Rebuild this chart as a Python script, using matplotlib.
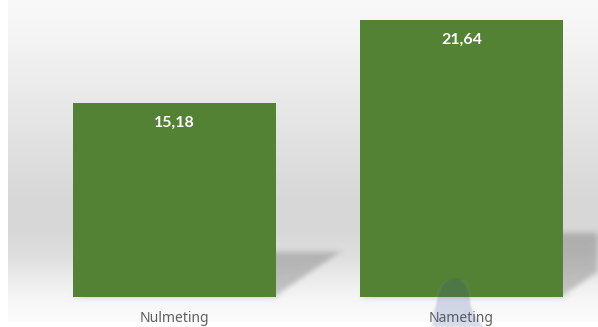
import numpy as np
import matplotlib
matplotlib.use("Agg")
import matplotlib.pyplot as plt
from matplotlib.patches import Polygon, PathPatch
from matplotlib.path import Path
from matplotlib.colors import LinearSegmentedColormap

# data
categories = ["Nulmeting", "Nameting"]
values = [15.18, 21.64]
value_labels = ["15,18", "21,64"]

bar_color = "#548235"
plt.rcParams["font.family"] = ["Noto Sans", "DejaVu Sans"]


def gaussian_blur(sigma):
    # agg filter: blurs whatever the artist rendered
    def _filter(im, dpi):
        pad = int(3 * sigma)
        src = np.pad(im, [(pad, pad), (pad, pad), (0, 0)], "constant")
        x = np.arange(-pad, pad + 1)
        k = np.exp(-0.5 * (x / sigma) ** 2)
        k /= k.sum()
        out = np.apply_along_axis(lambda m: np.convolve(m, k, mode="same"), 0, src)
        out = np.apply_along_axis(lambda m: np.convolve(m, k, mode="same"), 1, out)
        return out, -pad, -pad
    return _filter


fig = plt.figure(figsize=(5.98, 3.27), dpi=100)
fig.patch.set_facecolor("white")

# soft grey backdrop, light at the top and bottom
bg = fig.add_axes([8 / 598, 5 / 327, 590 / 598, 322 / 327])
bg.axis("off")
stops = [(0.0, "#f9f9f9"), (0.13, "#f3f3f3"), (0.31, "#e9e9e9"), (0.5, "#dedede"),
         (0.63, "#d7d7d7"), (0.72, "#d8d8d8"), (0.79, "#dedede"), (0.86, "#eaeaea"),
         (0.93, "#f6f6f6"), (1.0, "#fbfbfb")]
cmap = LinearSegmentedColormap.from_list("bg", stops)
grad = np.linspace(0, 1, 400).reshape(-1, 1)
bg.imshow(grad, cmap=cmap, aspect="auto", extent=(0, 1, 0, 1), vmin=0, vmax=1)
bg.set_xlim(0, 1)
bg.set_ylim(0, 1)

ax = fig.add_axes([0, 0, 1, 1])
ax.patch.set_alpha(0)
ax.axis("off")

spacing = 287.0          # px between bar centres
px_per_unit = 12.78
ax.set_xlim(-174.5 / spacing, (598 - 174.5) / spacing)
ax.set_ylim(-30 / px_per_unit, 297 / px_per_unit)

x = np.arange(len(values))
width = 0.707

# floor shadows thrown to the right of each bar
for xi, v in zip(x, values):
    xl, xr = xi - width / 2, xi + width / 2
    dx, dy = 0.01537 * v, 0.232 * v
    shadow = Polygon([(xl, 0), (xr, 0), (xr + dx, dy), (xl + dx, dy)],
                     closed=True, facecolor="black", alpha=0.2, edgecolor="none", zorder=1)
    shadow.set_agg_filter(gaussian_blur(3))
    ax.add_patch(shadow)

bars = ax.bar(x, values, width=width, color=bar_color, zorder=2)

for rect, lab in zip(bars, value_labels):
    ax.annotate(lab, (rect.get_x() + rect.get_width() / 2, rect.get_height()),
                xytext=(0, -19.5), textcoords="offset pixels", ha="center", va="center",
                color="white", fontsize=11.5, fontweight="bold", family=["Lato", "DejaVu Sans"],
                zorder=4)

for xi, cat in zip(x, categories):
    ax.annotate(cat, (xi, 0), xytext=(0, -21), textcoords="offset pixels",
                ha="center", va="center", color="#606060", fontsize=10, zorder=4)

# faint logo mark near the bottom
verts = [(433, 0), (433, 16), (437, 30), (441, 40),
         (446, 48), (456, 50), (463, 46),
         (470, 40), (470, 30), (471, 22),
         (474, 12), (479, 6), (484, 0), (433, 0)]
codes = [Path.MOVETO, Path.CURVE4, Path.CURVE4, Path.CURVE4,
         Path.CURVE4, Path.CURVE4, Path.CURVE4,
         Path.CURVE4, Path.CURVE4, Path.CURVE4,
         Path.CURVE4, Path.CURVE4, Path.CURVE4, Path.CLOSEPOLY]
verts = [(vx / 598, vy / 327) for vx, vy in verts]
logo = PathPatch(Path(verts, codes), transform=fig.transFigure, facecolor="#2f4f8f",
                 edgecolor="none", alpha=0.2, zorder=3)
logo.set_agg_filter(gaussian_blur(1.2))
fig.patches.append(logo)

fig.savefig("out.png", dpi=100)
